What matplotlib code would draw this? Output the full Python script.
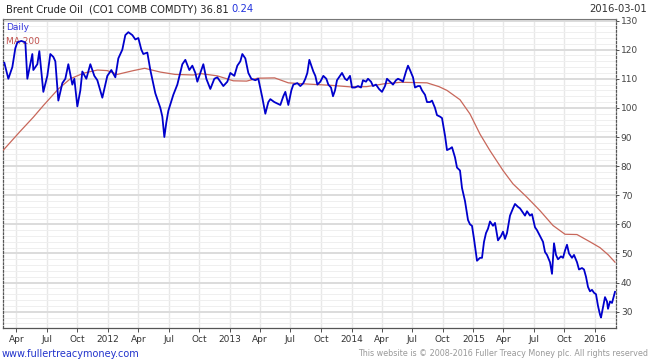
import matplotlib
matplotlib.use("Agg")
import matplotlib.pyplot as plt
import matplotlib.dates as mdates
import numpy as np
import pandas as pd

price_dates = [
    "2011-02-24","2011-03-08","2011-03-20","2011-03-29","2011-04-04","2011-04-16","2011-04-28","2011-05-04",
    "2011-05-19","2011-05-22","2011-06-03","2011-06-09","2011-06-21","2011-07-03","2011-07-12","2011-07-21",
    "2011-07-27","2011-08-05","2011-08-17","2011-08-26","2011-09-04","2011-09-16","2011-09-22","2011-10-01",
    "2011-10-10","2011-10-16","2011-10-28","2011-11-09","2011-11-21","2011-11-30","2011-12-15","2011-12-24",
    "2011-12-30","2012-01-11","2012-01-23","2012-02-01","2012-02-13","2012-02-22","2012-03-02","2012-03-14",
    "2012-03-23","2012-04-01","2012-04-10","2012-04-16","2012-04-28","2012-05-07","2012-05-22","2012-06-06",
    "2012-06-12","2012-06-18","2012-06-24","2012-06-30","2012-07-15","2012-07-27","2012-08-11","2012-08-20",
    "2012-09-01","2012-09-10","2012-09-19","2012-09-25","2012-10-04","2012-10-13","2012-10-22","2012-11-03",
    "2012-11-15","2012-11-24","2012-12-03","2012-12-12","2012-12-24","2013-01-02","2013-01-14","2013-01-23",
    "2013-02-01","2013-02-07","2013-02-16","2013-02-25","2013-03-06","2013-03-18","2013-03-27","2013-04-08",
    "2013-04-17","2013-04-26","2013-05-02","2013-05-14","2013-05-23","2013-06-01","2013-06-10","2013-06-16",
    "2013-06-25","2013-07-04","2013-07-10","2013-07-22","2013-07-31","2013-08-09","2013-08-15","2013-08-21",
    "2013-08-27","2013-09-02","2013-09-08","2013-09-14","2013-09-20","2013-09-29","2013-10-08","2013-10-17",
    "2013-10-23","2013-10-31","2013-11-06","2013-11-12","2013-11-18","2013-11-27","2013-12-03","2013-12-12",
    "2013-12-18","2013-12-27","2014-01-02","2014-01-11","2014-01-20","2014-01-29","2014-02-04","2014-02-13",
    "2014-02-19","2014-02-28","2014-03-06","2014-03-15","2014-03-24","2014-04-02","2014-04-11","2014-04-17",
    "2014-04-26","2014-05-05","2014-05-14","2014-05-20","2014-05-29","2014-06-04","2014-06-13","2014-06-19",
    "2014-06-25","2014-07-04","2014-07-10","2014-07-19","2014-07-25","2014-07-31","2014-08-09","2014-08-15",
    "2014-08-24","2014-08-30","2014-09-08","2014-09-14","2014-09-23","2014-09-29","2014-10-08","2014-10-14",
    "2014-10-23","2014-10-29","2014-11-07","2014-11-13","2014-11-22","2014-11-28","2014-12-07","2014-12-16",
    "2014-12-22","2014-12-28","2015-01-03","2015-01-09","2015-01-12","2015-01-21","2015-01-27","2015-02-02",
    "2015-02-08","2015-02-14","2015-02-20","2015-03-01","2015-03-07","2015-03-16","2015-03-25","2015-03-31",
    "2015-04-06","2015-04-12","2015-04-21","2015-04-30","2015-05-06","2015-05-15","2015-05-21","2015-05-30",
    "2015-06-05","2015-06-11","2015-06-20","2015-06-26","2015-07-05","2015-07-11","2015-07-20","2015-07-29",
    "2015-08-04","2015-08-10","2015-08-19","2015-08-25","2015-08-31","2015-09-06","2015-09-12","2015-09-21",
    "2015-09-27","2015-10-03","2015-10-09","2015-10-15","2015-10-24","2015-10-30","2015-11-08","2015-11-14",
    "2015-11-23","2015-11-29","2015-12-05","2015-12-11","2015-12-17","2015-12-23","2015-12-29","2016-01-04",
    "2016-01-10","2016-01-16","2016-01-19","2016-01-25","2016-01-31","2016-02-06","2016-02-09","2016-02-15",
    "2016-02-21","2016-03-01",
]
price_values = [
    115.5,110.0,114.0,120.5,122.5,123.0,122.5,110.0,
    118.5,113.0,115.0,119.5,105.5,111.0,118.5,117.5,
    116.0,102.5,108.5,110.0,115.0,108.0,110.0,100.5,
    106.0,112.5,110.0,115.0,111.0,109.5,103.5,108.0,
    111.0,113.0,110.5,117.0,120.0,125.0,126.0,125.0,
    123.5,124.0,120.0,118.5,119.0,113.0,105.0,100.0,
    97.0,90.0,95.0,99.0,104.5,108.0,115.0,116.5,
    113.0,114.5,112.0,109.0,112.0,115.0,110.0,106.5,
    110.0,110.5,109.0,107.5,109.0,112.0,111.0,114.5,
    116.0,118.5,117.0,112.0,110.0,109.5,110.0,103.5,
    98.0,102.0,103.0,102.0,101.5,101.0,104.0,105.5,
    101.0,106.0,108.0,108.5,107.5,108.5,110.0,112.0,
    116.5,114.5,112.5,111.0,108.0,109.0,111.0,110.0,
    108.0,107.0,104.0,106.0,109.5,111.0,112.0,110.0,
    109.5,111.0,107.0,107.0,107.5,107.0,109.5,109.0,
    110.0,109.0,107.5,108.0,106.5,105.5,107.5,110.0,
    109.0,108.0,109.5,110.0,109.5,109.0,112.5,114.5,
    113.0,110.5,107.0,107.5,107.5,106.0,104.5,102.0,
    102.0,102.5,100.0,97.5,97.0,96.5,90.5,85.5,
    86.0,86.5,83.0,79.5,78.5,72.5,68.0,61.5,
    60.0,59.5,55.0,50.0,47.5,48.5,48.5,54.0,
    57.0,58.5,61.0,59.5,60.5,54.5,56.0,57.5,
    55.0,57.0,63.0,65.5,67.0,66.0,65.5,64.0,
    63.0,64.5,63.0,63.5,59.0,58.0,56.0,54.0,
    50.5,49.5,47.0,43.0,53.5,49.5,48.0,49.0,
    48.5,51.0,53.0,50.0,48.5,49.5,47.0,44.5,
    45.0,44.5,42.0,38.5,37.0,37.5,36.5,36.0,
    32.0,29.0,28.0,31.5,35.0,33.5,31.0,33.5,
    33.0,36.81,
]

ma_dates = [
    "2011-02-21","2011-04-13","2011-05-22","2011-06-21","2011-08-05","2011-09-10","2011-10-19","2011-11-30",
    "2011-12-30","2012-01-29","2012-03-17","2012-04-20","2012-06-06","2012-07-20","2012-09-13","2012-10-04",
    "2012-11-24","2013-01-11","2013-02-20","2013-03-25","2013-05-15","2013-06-25","2013-08-20","2013-11-06",
    "2013-12-30","2014-02-15","2014-04-10","2014-05-29","2014-08-15","2014-09-20","2014-10-14","2014-11-22",
    "2014-12-22","2015-01-21","2015-02-20","2015-03-31","2015-04-30","2015-06-11","2015-07-20","2015-08-28",
    "2015-10-03","2015-11-08","2015-12-17","2016-01-16","2016-02-10","2016-03-01",
]
ma_values = [
    85.5,92.0,96.8,100.8,106.5,110.0,111.9,113.0,
    112.8,111.5,112.8,113.6,112.3,111.5,111.3,111.8,
    111.0,109.3,109.2,110.2,110.3,108.6,108.2,107.7,
    107.2,107.3,108.3,108.8,108.6,107.3,106.0,102.8,
    97.9,91.0,85.3,78.5,73.9,69.3,64.7,59.6,
    56.6,56.5,54.0,52.0,49.5,47.0,
]

y_ticks = [30, 40, 50, 60, 70, 80, 90, 100, 110, 120, 130]
title_text = "Brent Crude Oil  (CO1 COMB COMDTY) 36.81 "
change_text = "0.24"
date_text = "2016-03-01"

pd_price = pd.to_datetime(price_dates)
pd_ma = pd.to_datetime(ma_dates)

fig = plt.figure(figsize=(6.5, 3.63), dpi=100)
ax = fig.add_axes([3/650, 1-328/363, 613/650, 309.5/363])

ax.set_xlim(pd.Timestamp("2011-02-20"), pd.Timestamp("2016-03-04"))
ax.set_ylim(24.4, 130.7)

# grid
ax.set_yticks(np.arange(26, 131, 2), minor=True)
ax.set_yticks(y_ticks)
ax.grid(axis='y', which='minor', color='#efefef', lw=0.7, zorder=0)
ax.grid(axis='y', which='major', color='#dcdcdc', lw=1.4, zorder=0)

qt = mdates.MonthLocator(bymonth=[1, 4, 7, 10])
ax.xaxis.set_major_locator(qt)
def fmt(x, pos=None):
    d = mdates.num2date(x)
    return str(d.year) if d.month == 1 else d.strftime("%b")
ax.xaxis.set_major_formatter(plt.FuncFormatter(fmt))
ax.grid(axis='x', which='major', color='#e8e8e8', lw=1.0, zorder=0)

ax.plot(pd_ma, ma_values, color='#c8675a', lw=0.9, zorder=3)
ax.plot(pd_price, price_values, color='#0000cc', lw=1.3, zorder=4)

ax.yaxis.tick_right()
ax.tick_params(axis='y', which='major', length=2, width=0.6, colors='#333333',
               labelsize=6.5, pad=1.5, labelcolor='#444444')
ax.tick_params(axis='y', which='minor', length=0)
ax.tick_params(axis='x', which='major', length=3, width=0.6, colors='#333333',
               labelsize=6.5, pad=2, labelcolor='#333333')

for s in ['left', 'right']:
    ax.spines[s].set_linestyle((0, (1.5, 1.5)))
    ax.spines[s].set_color('#555555')
    ax.spines[s].set_linewidth(0.9)
ax.spines['bottom'].set_color('#555555')
ax.spines['bottom'].set_linewidth(0.9)
ax.spines['top'].set_color('#777777')
ax.spines['top'].set_linewidth(0.8)

# legend texts
ax.text(0.005, 0.985, "Daily", transform=ax.transAxes, color='#3333dd',
        fontsize=6.5, va='top', ha='left')
ax.text(0.005, 0.94, "MA 200", transform=ax.transAxes, color='#c0504d',
        fontsize=6.5, va='top', ha='left')

# title
t = fig.text(6/650, 1-9/363, title_text, color='#222222', fontsize=7.2, va='center', ha='left')
fig.canvas.draw()
bb = t.get_window_extent()
fig.text(bb.x1/650, 1-9/363, change_text, color='#2233dd', fontsize=7.2, va='center', ha='left')
fig.text(647/650, 1-9/363, date_text, color='#333333', fontsize=7.2, va='center', ha='right')

fig.text(2/650, 1-354/363, "www.fullertreacymoney.com", color='#2233cc', fontsize=7, va='center', ha='left')
fig.text(648/650, 1-354/363, "This website is \u00a9 2008-2016 Fuller Treacy Money plc. All rights reserved",
         color='#999999', fontsize=5.8, va='center', ha='right')

fig.savefig("out.png", dpi=100, facecolor='white')
